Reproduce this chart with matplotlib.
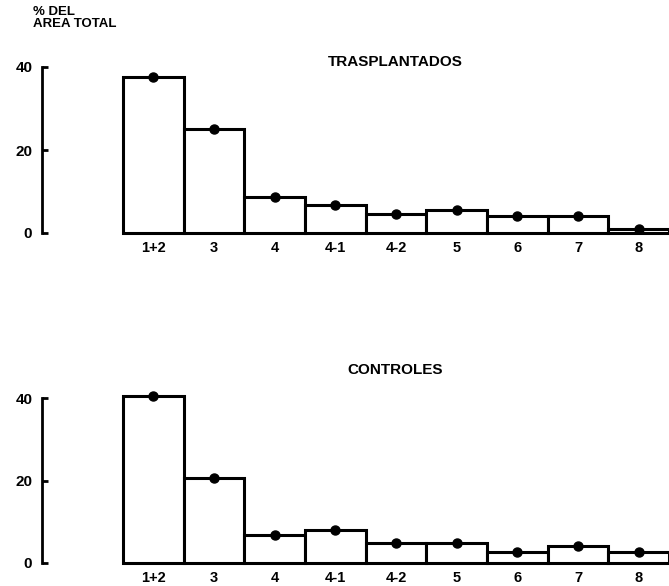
import numpy as np
import matplotlib
matplotlib.use('Agg')
import matplotlib.pyplot as plt

# Data
categories = ['1+2', '3', '4', '4-1', '4-2', '5', '6', '7', '8']
trasplantados = [37.7, 25.0, 8.6, 6.8, 4.6, 5.6, 4.0, 4.0, 1.0]
controles = [40.4, 20.6, 6.7, 7.9, 4.8, 4.9, 2.7, 4.2, 2.7]
yticks = [0, 20, 40]

plt.rcParams['font.family'] = ['Liberation Sans', 'DejaVu Sans']
plt.rcParams['font.weight'] = 'bold'

fig = plt.figure(figsize=(6.69, 5.86), dpi=100)

W, H = 669.0, 586.0
x_spine = 42
x_bar0 = 123
bar_w = (669 - x_bar0) / 9.0


def make_panel(y_zero, y_forty, values, title, title_y):
    bottom = 1 - y_zero / H
    height = (y_zero - y_forty) / H
    left = x_spine / W
    ax = fig.add_axes([left, bottom, 1 - left, height])
    x = np.arange(len(values)) + 0.5
    ax.bar(x, values, width=1.0, color='white', edgecolor='black',
           linewidth=2.2, clip_on=False)
    ax.plot(x, values, 'o', color='black', markersize=6.5, clip_on=False)
    ax.set_xlim(-(x_bar0 - x_spine) / bar_w, 9)
    ax.set_ylim(0, 40)
    ax.spines['top'].set_visible(False)
    ax.spines['right'].set_visible(False)
    ax.spines['bottom'].set_visible(False)
    ax.spines['left'].set_linewidth(2)
    ax.set_yticks(yticks)
    ax.set_yticklabels([str(t) for t in yticks], fontsize=11, fontweight='bold')
    ax.tick_params(axis='y', direction='in', length=4, width=2, pad=7)
    ax.set_xticks(x)
    ax.set_xticklabels(categories, fontsize=10.5, fontweight='bold')
    ax.tick_params(axis='x', length=0, pad=6)
    ax.patch.set_visible(False)
    fig.text(395 / W, 1 - title_y / H, title, ha='center', va='center',
             fontsize=11, fontweight='bold')
    return ax


make_panel(233, 67, trasplantados, 'TRASPLANTADOS', 62)
make_panel(563, 398, controles, 'CONTROLES', 370)

fig.text(33 / W, 1 - 18 / H, '% DEL\nAREA TOTAL', ha='left', va='center',
         fontsize=9.5, fontweight='bold', linespacing=0.95)

fig.savefig('out.png', dpi=100)
